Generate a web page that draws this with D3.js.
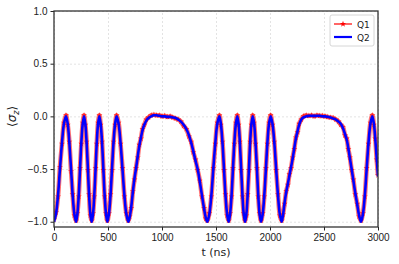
<!DOCTYPE html>
<html>
<head>
<meta charset="utf-8">
<script src="https://cdn.jsdelivr.net/npm/d3@7"></script>
<style>
  body { margin: 0; background: #fff; }
  svg { font-family: "DejaVu Sans", sans-serif; }
  .grid line { stroke: #d0d0d0; stroke-width: 0.6; stroke-dasharray: 2,2; }
  .grid .domain { display: none; }
  .axis text { font-size: 10px; fill: #222; }
  .axis line { stroke: #222; }
  .axis .domain { display: none; }
</style>
</head>
<body>
<script>
// time samples (ns)
const time = [
  0, 18, 37, 55, 74, 92, 111,
  127, 142, 158, 173, 189, 204,
  216, 229, 241, 253, 266, 278,
  290, 302, 314, 325, 337, 349,
  361, 373, 385, 396, 408, 420,
  432, 445, 457, 469, 482, 494,
  508, 523, 537, 551, 566, 580,
  598, 616, 634, 652, 670, 688,
  700, 715, 730, 745, 759, 775, 790, 805, 820, 836, 855, 875, 900, 925, 950, 975, 1000, 1025, 1050, 1075, 1100, 1125, 1150,
  1175, 1200, 1225, 1250, 1270, 1290, 1310, 1330, 1350, 1370, 1390, 1405, 1420,
  1438, 1457, 1475, 1494, 1512, 1531,
  1545, 1560, 1574, 1588, 1603, 1617,
  1630, 1644, 1657, 1670, 1684, 1697,
  1709, 1721, 1733, 1745, 1757, 1769,
  1781, 1793, 1805, 1816, 1828, 1840,
  1853, 1866, 1879, 1891, 1904, 1917,
  1932, 1947, 1962, 1976, 1991, 2006,
  2023, 2040, 2057, 2074, 2091, 2108,
  2120, 2135, 2150, 2165, 2180, 2195, 2210, 2225, 2240, 2255, 2270, 2290, 2310, 2335, 2360, 2385, 2410, 2435, 2460, 2485, 2510, 2535, 2560, 2585, 2610, 2635,
  2655, 2675, 2695, 2710, 2725, 2740, 2756, 2772, 2790, 2808, 2825, 2843,
  2860, 2878, 2895, 2912, 2930, 2947,
  2962, 2975, 2988, 3000
];

const q1 = [
  -0.98, -0.91, -0.76, -0.48, -0.26, -0.06, 0.01,
  -0.08, -0.24, -0.52, -0.74, -0.94, -0.99,
  -0.92, -0.76, -0.49, -0.26, -0.06, 0.01,
  -0.08, -0.24, -0.51, -0.74, -0.94, -0.99,
  -0.92, -0.76, -0.49, -0.26, -0.06, 0.01,
  -0.08, -0.24, -0.51, -0.76, -0.92, -0.99,
  -0.92, -0.74, -0.51, -0.24, -0.08, 0.01,
  -0.06, -0.26, -0.49, -0.76, -0.92, -0.99,
  -0.95, -0.87, -0.71, -0.6, -0.49, -0.39, -0.27, -0.21, -0.12, -0.08, -0.03, -0.01, 0.01, 0.015, 0.01, 0.01, 0, 0.005, -0.005, 0, -0.01, -0.02, -0.03,
  -0.05, -0.09, -0.12, -0.19, -0.24, -0.34, -0.41, -0.51, -0.61, -0.76, -0.87, -0.97, -0.99,
  -0.92, -0.76, -0.49, -0.26, -0.06, 0.01,
  -0.08, -0.24, -0.51, -0.74, -0.94, -0.99,
  -0.92, -0.76, -0.49, -0.26, -0.06, 0.01,
  -0.08, -0.24, -0.51, -0.76, -0.92, -0.99,
  -0.94, -0.74, -0.51, -0.24, -0.08, 0.01,
  -0.06, -0.26, -0.49, -0.76, -0.92, -0.99,
  -0.92, -0.76, -0.49, -0.26, -0.06, 0.01,
  -0.08, -0.24, -0.51, -0.74, -0.94, -0.99,
  -0.93, -0.83, -0.71, -0.65, -0.55, -0.49, -0.39, -0.31, -0.2, -0.15, -0.07, -0.03, 0, 0.01, 0.005, 0.01, 0, 0.01, 0.005, 0.005, 0, -0.005, -0.01, -0.015, -0.03, -0.05,
  -0.08, -0.1, -0.18, -0.21, -0.31, -0.39, -0.51, -0.6, -0.74, -0.83, -0.95, -0.99,
  -0.92, -0.76, -0.49, -0.26, -0.06, 0.01,
  -0.08, -0.21, -0.41, -0.56
];

const q2 = [
  -1, -0.93, -0.75, -0.5, -0.25, -0.07, 0,
  -0.07, -0.25, -0.5, -0.75, -0.93, -1,
  -0.93, -0.75, -0.5, -0.25, -0.07, 0,
  -0.07, -0.25, -0.5, -0.75, -0.93, -1,
  -0.93, -0.75, -0.5, -0.25, -0.07, 0,
  -0.07, -0.25, -0.5, -0.75, -0.93, -1,
  -0.93, -0.75, -0.5, -0.25, -0.07, 0,
  -0.07, -0.25, -0.5, -0.75, -0.93, -1,
  -0.96, -0.86, -0.72, -0.59, -0.5, -0.38, -0.28, -0.2, -0.13, -0.08, -0.04, -0.015, 0, 0.01, 0.01, 0.005, 0, 0, -0.005, -0.005, -0.01, -0.015, -0.03,
  -0.05, -0.08, -0.12, -0.18, -0.25, -0.33, -0.42, -0.5, -0.62, -0.75, -0.88, -0.96, -1,
  -0.93, -0.75, -0.5, -0.25, -0.07, 0,
  -0.07, -0.25, -0.5, -0.75, -0.93, -1,
  -0.93, -0.75, -0.5, -0.25, -0.07, 0,
  -0.07, -0.25, -0.5, -0.75, -0.93, -1,
  -0.93, -0.75, -0.5, -0.25, -0.07, 0,
  -0.07, -0.25, -0.5, -0.75, -0.93, -1,
  -0.93, -0.75, -0.5, -0.25, -0.07, 0,
  -0.07, -0.25, -0.5, -0.75, -0.93, -1,
  -0.94, -0.82, -0.72, -0.64, -0.56, -0.48, -0.4, -0.3, -0.21, -0.14, -0.08, -0.03, -0.01, 0, 0.005, 0.005, 0.005, 0.005, 0.005, 0, 0, -0.005, -0.01, -0.02, -0.03, -0.05,
  -0.07, -0.11, -0.17, -0.22, -0.3, -0.4, -0.5, -0.61, -0.73, -0.84, -0.94, -1,
  -0.93, -0.75, -0.5, -0.25, -0.07, 0,
  -0.07, -0.22, -0.4, -0.57
];

const xTicks = [0, 500, 1000, 1500, 2000, 2500, 3000];
const yTicks = [-1.0, -0.5, 0.0, 0.5, 1.0];
const seriesNames = ['Q1', 'Q2'];
const seriesColors = ['#ff0000', '#0000ff'];

const W = 399, H = 264;
const margin = {top: 11, right: 21, bottom: 37, left: 54};
const width = W - margin.left - margin.right;
const height = H - margin.top - margin.bottom;

const svg = d3.select('body').append('svg')
    .attr('width', W)
    .attr('height', H);

const g = svg.append('g')
    .attr('transform', `translate(${margin.left},${margin.top})`);

const x = d3.scaleLinear().domain([0, 3000]).range([0, width]);
const y = d3.scaleLinear().domain([-1.05, 1.0]).range([height, 0]);

const fmt = d => d3.format('.1f')(d).replace('-', '\u2212');

// grid
g.append('g')
  .attr('class', 'grid')
  .attr('transform', `translate(0,${height})`)
  .call(d3.axisBottom(x).tickValues(xTicks).tickSize(-height).tickFormat(''));
g.append('g')
  .attr('class', 'grid')
  .call(d3.axisLeft(y).tickValues(yTicks).tickSize(-width).tickFormat(''));

svg.append('clipPath').attr('id', 'clip')
  .append('rect').attr('width', width).attr('height', height);

const plot = g.append('g').attr('clip-path', 'url(#clip)');

const line1 = d3.line()
  .x((d, i) => x(time[i]))
  .y(d => y(d))
  .curve(d3.curveCatmullRom);

// Q1: red line with star markers
plot.append('path')
  .datum(q1)
  .attr('fill', 'none')
  .attr('stroke', seriesColors[0])
  .attr('stroke-opacity', 0.55)
  .attr('stroke-width', 4.6)
  .attr('d', line1);

const star = d3.symbol().type(d3.symbolStar).size(12);
plot.append('g')
  .selectAll('path')
  .data(q1)
  .enter().append('path')
  .attr('transform', (d, i) => `translate(${x(time[i])},${y(d)})`)
  .attr('d', star)
  .attr('fill', seriesColors[0])
  .attr('fill-opacity', 0.7);

// Q2: blue line
plot.append('path')
  .datum(q2)
  .attr('fill', 'none')
  .attr('stroke', seriesColors[1])
  .attr('stroke-width', 2.6)
  .attr('d', line1);

// axes
g.append('g')
  .attr('class', 'axis')
  .attr('transform', `translate(0,${height})`)
  .call(d3.axisBottom(x).tickValues(xTicks).tickSize(3.5).tickPadding(3).tickFormat(d3.format('d')));
g.append('g')
  .attr('class', 'axis')
  .call(d3.axisLeft(y).tickValues(yTicks).tickSize(3.5).tickPadding(3).tickFormat(fmt));

// frame
g.append('rect')
  .attr('width', width)
  .attr('height', height)
  .attr('fill', 'none')
  .attr('stroke', '#333')
  .attr('stroke-width', 1.3);

// axis labels
svg.append('text')
  .attr('x', margin.left + width / 2)
  .attr('y', 256)
  .attr('text-anchor', 'middle')
  .style('font-size', '11px')
  .style('fill', '#222')
  .text('t (ns)');

const yl = svg.append('text')
  .attr('transform', `translate(16,${margin.top + y(0)}) rotate(-90)`)
  .attr('text-anchor', 'middle')
  .style('font-size', '12px')
  .style('fill', '#222');
yl.append('tspan').text('\u27E8');
yl.append('tspan').style('font-style', 'italic').text('\u03C3');
yl.append('tspan').attr('dy', 3).style('font-size', '8px').style('font-style', 'italic').text('z');
yl.append('tspan').attr('dy', -3).text('\u27E9');

// legend
const lg = g.append('g').attr('transform', `translate(${width - 48},4)`);
lg.append('rect')
  .attr('width', 44)
  .attr('height', 31)
  .attr('rx', 2)
  .attr('fill', '#fff')
  .attr('fill-opacity', 0.8)
  .attr('stroke', '#ccc')
  .attr('stroke-width', 0.8);
seriesNames.forEach((name, i) => {
  const yy = 9 + i * 13;
  lg.append('line')
    .attr('x1', 4).attr('x2', 22)
    .attr('y1', yy).attr('y2', yy)
    .attr('stroke', seriesColors[i])
    .attr('stroke-width', i === 0 ? 1.2 : 2.2);
  if (i === 0) {
    lg.append('path')
      .attr('transform', `translate(13,${yy})`)
      .attr('d', star)
      .attr('fill', seriesColors[0]);
  }
  lg.append('text')
    .attr('x', 27)
    .attr('y', yy + 3.5)
    .style('font-size', '9px')
    .style('fill', '#222')
    .text(name);
});
</script>
</body>
</html>
